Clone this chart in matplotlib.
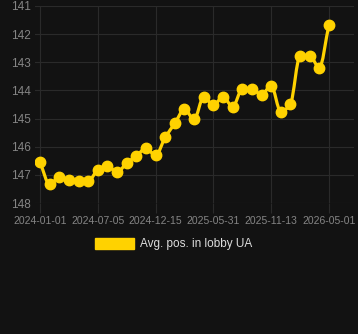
import matplotlib
matplotlib.use("Agg")
import matplotlib.pyplot as plt
from matplotlib.path import Path
from matplotlib.patches import PathPatch, Patch
import numpy as np

plt.rcParams['font.family'] = ['Liberation Sans', 'DejaVu Sans']

# tick labels shown under every 6th point
tick_labels = ['2024-01-01', '2024-07-05', '2024-12-15', '2025-05-31', '2025-11-13', '2026-05-01']
positions = [146.55, 147.34, 147.08, 147.2, 147.23, 147.23, 146.82, 146.67, 146.91, 146.58,
             146.33, 146.06, 146.31, 145.67, 145.17, 144.67, 145.03, 144.22, 144.53, 144.22,
             144.58, 143.96, 143.96, 144.15, 143.83, 144.76, 144.48, 142.77, 142.77, 143.19,
             141.66]
series_name = 'Avg. pos. in lobby UA'

bg = '#121212'
gold = '#FFD200'
grid_c = '#2a2a2a'
text_c = '#858585'

x = np.arange(len(positions))
y = np.array(positions)

fig = plt.figure(figsize=(3.58, 3.34), dpi=100, facecolor=bg)
ax = fig.add_axes([35 / 358, 1 - 203 / 334, (354 - 35) / 358, (203 - 6) / 334])
ax.set_facecolor(bg)

# monotone cubic smoothing of the drawn line
n = len(x)
d = np.diff(y)
m = np.zeros(n)
m[0], m[-1] = d[0], d[-1]
for i in range(1, n - 1):
    if d[i - 1] * d[i] <= 0:
        m[i] = 0
    else:
        m[i] = 2 / (1 / d[i - 1] + 1 / d[i])
verts = [(x[0], y[0])]
codes = [Path.MOVETO]
for i in range(n - 1):
    verts += [(x[i] + 1 / 3, y[i] + m[i] / 3), (x[i + 1] - 1 / 3, y[i + 1] - m[i + 1] / 3), (x[i + 1], y[i + 1])]
    codes += [Path.CURVE4] * 3
ax.add_patch(PathPatch(Path(verts, codes), facecolor='none', edgecolor=gold, lw=2.3, zorder=3))
ax.plot(x, y, 'o', color=gold, markersize=7.5, zorder=4)

ax.set_ylim(148, 141)
ax.set_yticks(range(141, 149))
ax.set_xlim(-0.52, 32.6)
ax.set_xticks(x[::6])
ax.set_xticklabels(tick_labels)

ax.grid(True, color=grid_c, lw=0.8)
for s in ax.spines.values():
    s.set_visible(False)
ax.tick_params(axis='x', colors=grid_c, labelcolor=text_c, labelsize=7.5, length=7, width=0.8, pad=2)
ax.tick_params(axis='y', colors=grid_c, labelcolor=text_c, labelsize=8.5, length=0, pad=3)

leg = fig.legend(handles=[Patch(facecolor=gold, edgecolor=gold)], labels=[series_name],
                 loc='center', bbox_to_anchor=(174 / 358, 1 - 244 / 334), frameon=False,
                 handlelength=3.3, handleheight=1.1, fontsize=8.5, labelcolor='#dddddd',
                 handletextpad=0.5)

fig.savefig('out.png', dpi=100, facecolor=bg)
